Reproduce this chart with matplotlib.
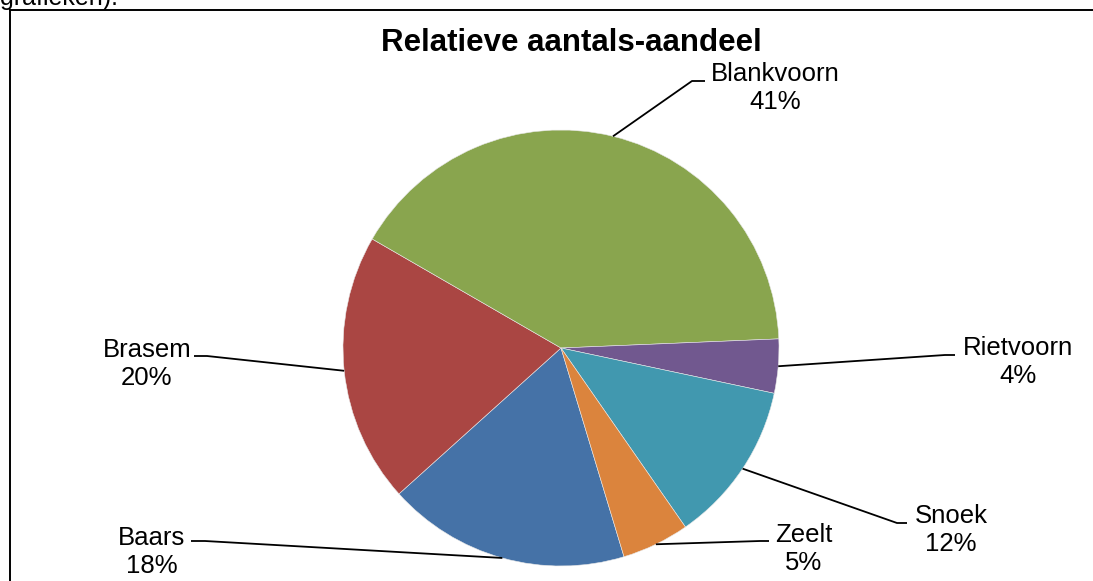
import numpy as np
import matplotlib
matplotlib.use("Agg")
import matplotlib.pyplot as plt
from matplotlib.lines import Line2D

# ---- data ----
categories = ["Baars", "Brasem", "Blankvoorn", "Rietvoorn", "Snoek", "Zeelt"]
shares = [18, 20, 41, 4, 12, 5]
colors = ["#4572A7", "#AA4643", "#89A54E", "#71588F", "#4198AF", "#DB843D"]
title = "Relatieve aantals-aandeel"

W, H = 1093, 581
fig = plt.figure(figsize=(W / 100, H / 100), dpi=100)
plt.rcParams['font.family'] = ['Liberation Sans', 'DejaVu Sans']
ax = fig.add_axes([0, 0, 1, 1])
ax.set_xlim(0, W)
ax.set_ylim(0, H)
ax.set_aspect('equal')
ax.axis('off')

def py(y):
    return H - y

cx, cy, R = 561, py(348), 218
wedges, _ = ax.pie(shares, colors=colors, startangle=-73.2, counterclock=False,
                   center=(cx, cy), radius=R, frame=True,
                   wedgeprops=dict(edgecolor='#e8e8e8', linewidth=0.4))
ax.set_xlim(0, W)
ax.set_ylim(0, H)
ax.axis('off')

# label layout: (text center x, text center y, elbow x, attach x, attach y)
layout = {
    "Blankvoorn": (775, 88, 692, 705, 81),
    "Rietvoorn": (1018, 362, 945, 955, 355),
    "Snoek": (951, 530, 897, 907, 523),
    "Zeelt": (804, 549, 760, 769, 541),
    "Baars": (152, 552, 205, 191, 541),
    "Brasem": (147, 364, 207, 194, 356),
}

for w, name, val in zip(wedges, categories, shares):
    mid = np.deg2rad((w.theta1 + w.theta2) / 2)
    x0 = cx + R * np.cos(mid)
    y0 = cy + R * np.sin(mid)
    tx, ty, ex, axx, ayy = layout[name]
    ax.plot([x0, ex, axx], [y0, py(ayy), py(ayy)], color='black', lw=1.3,
            solid_capstyle='butt', zorder=3)
    ax.text(tx, py(ty), f"{name}\n{val}%", ha='center', va='center',
            multialignment='center', fontsize=18.5, linespacing=1.2,
            color='black', zorder=4)

fig.text(571.5 / W, 1 - 43 / H, title, ha='center', va='center',
         fontsize=22.5, fontweight='bold')

# frame border (top and left visible)
fig.add_artist(Line2D([9.5 / W, 9.5 / W], [0, 1 - 9.5 / H], color='black', lw=1.4,
                      transform=fig.transFigure))
fig.add_artist(Line2D([9.5 / W, 1.0], [1 - 9.5 / H, 1 - 9.5 / H], color='black', lw=1.4,
                      transform=fig.transFigure))

# clipped document text at the very top
fig.text(0.0, 1 - 5 / H, "grafieken).", ha='left', va='baseline', fontsize=18)

fig.savefig("out.png", dpi=100)
